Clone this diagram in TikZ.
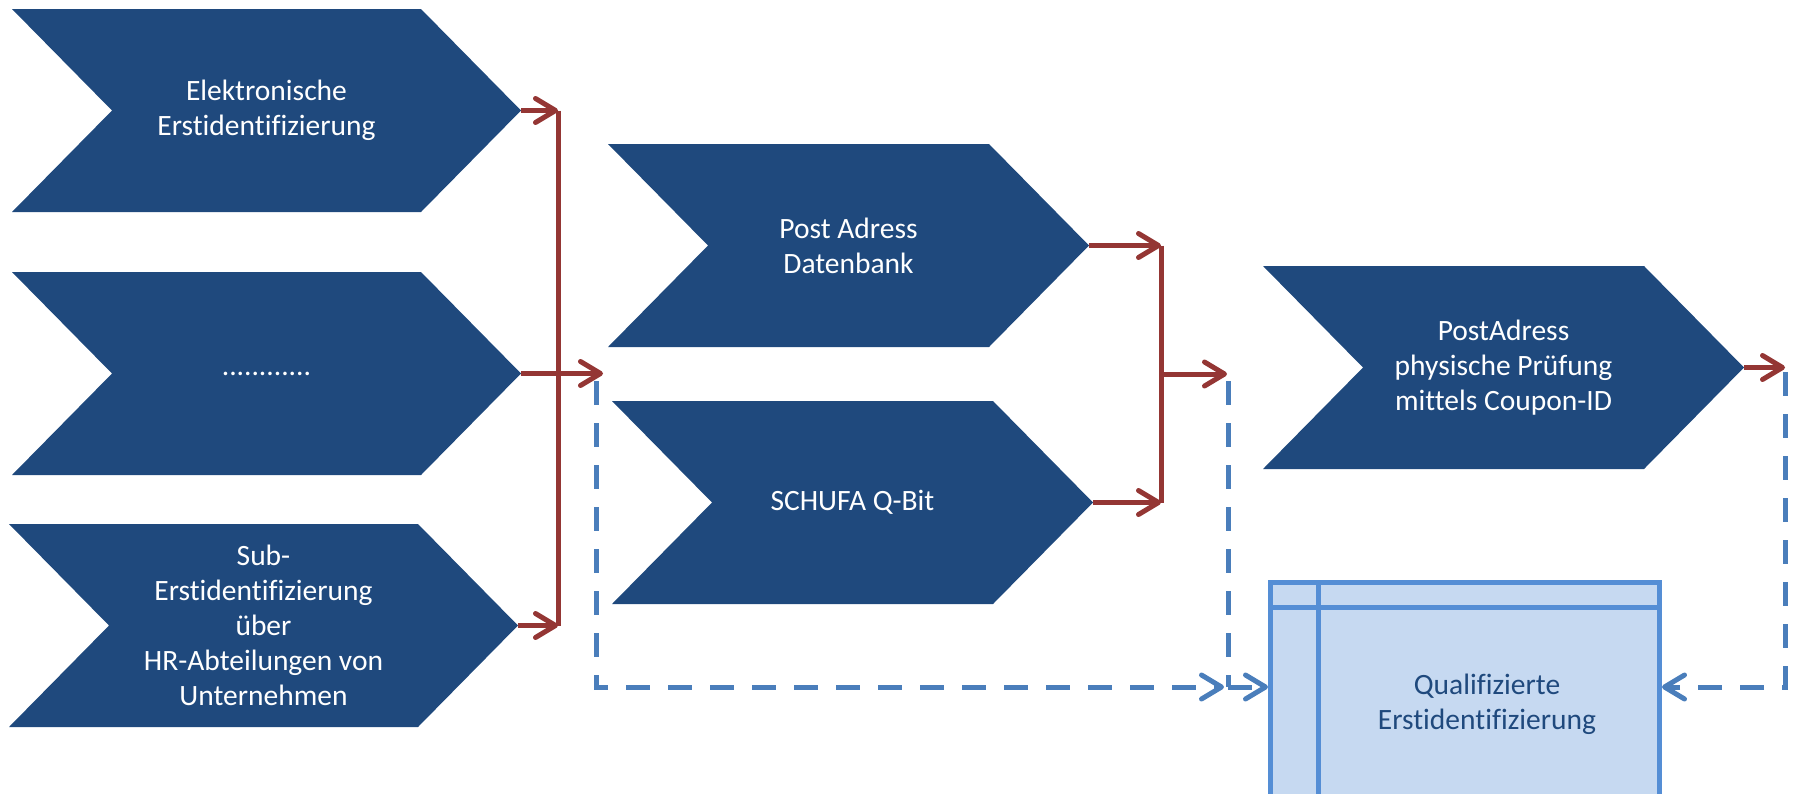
\documentclass[tikz,border=0pt]{standalone}
\usepackage{fontspec}
\setmainfont{Carlito}[Ligatures=NoCommon]
\usetikzlibrary{arrows.meta}
\definecolor{chevc}{HTML}{1F497D}
\definecolor{redc}{HTML}{943634}
\definecolor{bluec}{HTML}{4A7EBB}
\definecolor{boxborder}{HTML}{558ED5}
\definecolor{boxfill}{HTML}{C6D9F1}
\definecolor{boxtext}{HTML}{1F497D}
\newcommand\chev[7]{%
  \fill[chevshape] (#2,#3) -- ({#2+#4},#3) -- ({#2+#4+#5},{#3+#6/2}) -- ({#2+#4},{#3+#6}) -- (#2,{#3+#6}) -- ({#2+#5},{#3+#6/2}) -- cycle;
  \coordinate (#1tip) at ({#2+#4+#5},{#3+#6/2});
  \node[chevtext] (#1) at ({#2+(#4+#5)/2},{#3+#6/2}) {#7};
}
\begin{document}
\begin{tikzpicture}[x=1pt,y=-1pt,
  chevshape/.style={fill=chevc},
  chevtext/.style={text=white, align=center, font=\fontsize{29.5}{35}\selectfont, inner sep=0pt},
  redline/.style={draw=redc, line width=5pt},
  redarrow/.style={redline, -{Straight Barb[length=20pt,width=24pt,round]}},
  bluedash/.style={draw=bluec, line width=5pt, dash pattern=on 24pt off 18pt},
  bluearrow/.style={bluedash, -{Straight Barb[length=20pt,width=24pt,round]}},
  qbox/.style={draw=boxborder, fill=boxfill, line width=5pt, inner sep=0pt},
  qline/.style={draw=boxborder, line width=5pt},
  qtext/.style={text=boxtext, align=center, font=\fontsize{29.5}{35}\selectfont, inner sep=0pt}
]
\useasboundingbox (0,0) rectangle (1794,793);

% chevrons
\chev{c1}{12}{9}{409}{100}{203}{Elektronische\\Erstidentifizierung}
\chev{c2}{12}{272}{409}{100}{203}{............}
\chev{c3}{9}{524}{409}{100}{203}{Sub-\\Erstidentifizierung\\über\\HR-Abteilungen von\\Unternehmen}
\chev{c4}{608}{144}{381}{100}{203}{Post Adress\\Datenbank}
\chev{c5}{612}{401}{381}{100}{203}{SCHUFA Q-Bit}
\chev{c6}{1263}{266}{381}{100}{203}{PostAdress\\physische Prüfung\\mittels Coupon-ID}

% result box
\node[qbox, anchor=north west, minimum width=389pt, minimum height=230pt] (box) at (1268,580) {};
\draw[qline] ([yshift=-27pt]box.north west) -- ([yshift=-27pt]box.north east);
\draw[qline] ([xshift=50pt]box.north west) -- ([xshift=50pt]box.south west);
\node[qtext] (qt) at (1487,704) {Qualifizierte\\Erstidentifizierung};

% red connectors, column 1
\coordinate (b1top) at (558,110.5);
\coordinate (b1bot) at (558,625.5);
\coordinate (m1) at (603,373.5);
\draw[redline] (b1top) -- (b1bot);
\draw[redarrow] (c1tip) -- (b1top);
\draw[redarrow] (c3tip) -- (b1bot);
\draw[redarrow] (c2tip) -- (m1);

% red connectors, column 2
\coordinate (b2top) at (1161,245.5);
\coordinate (b2bot) at (1161,502.5);
\coordinate (b2mid) at (1161,374);
\coordinate (m2) at (1227,374);
\draw[redline] (b2top) -- (b2bot);
\draw[redarrow] (c4tip) -- (b2top);
\draw[redarrow] (c5tip) -- (b2bot);
\draw[redarrow] (b2mid) -- (m2);

% red connector, column 3
\coordinate (m3) at (1785,367.5);
\draw[redarrow] (c6tip) -- (m3);

% blue dashed connectors
\coordinate (d1) at (596,381);
\coordinate (j1) at (1224,687);
\coordinate (d2) at (1228,381);
\coordinate (d2b) at (1228,687);
\coordinate (d3) at (1785,372);
\coordinate (d3b) at (1785,687);
\draw[bluearrow] (d1) |- (j1);
\draw[bluedash] (d2) -- (d2b);
\draw[bluearrow] (d2b) -- (box.west |- d2b);
\draw[bluearrow] (d3) |- (box.east |- d3b);
\end{tikzpicture}
\end{document}
